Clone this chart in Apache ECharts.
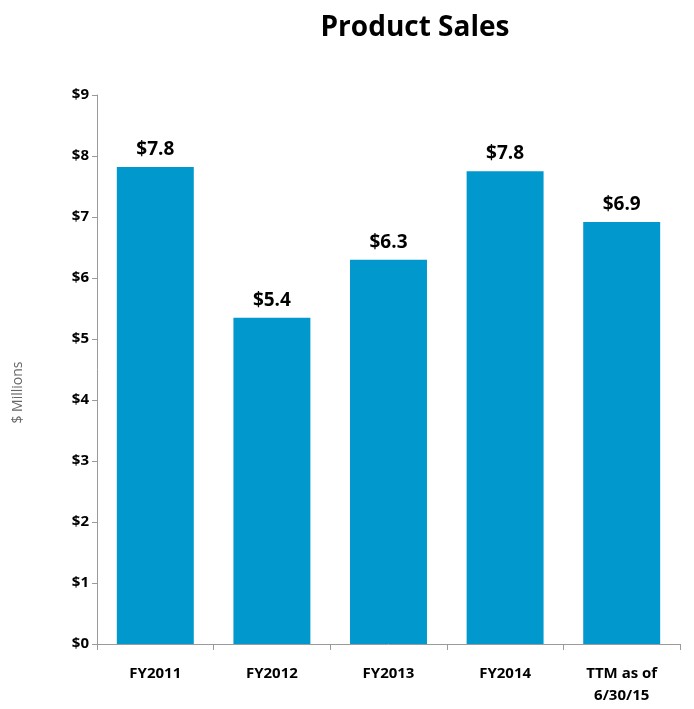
<!DOCTYPE html>
<html>
<head>
<meta charset="utf-8">
<script src="https://cdn.jsdelivr.net/npm/echarts@6/dist/echarts.min.js"></script>
<style>
  html, body { margin: 0; padding: 0; background: #fff; }
  #chart { width: 694px; height: 709px; }
</style>
</head>
<body>
<div id="chart"></div>
<script>
var categories = ['FY2011', 'FY2012', 'FY2013', 'FY2014', 'TTM as of\n6/30/15'];
var sales = [7.82, 5.35, 6.3, 7.75, 6.92];
var salesLabels = ['$7.8', '$5.4', '$6.3', '$7.8', '$6.9'];

var chart = echarts.init(document.getElementById('chart'));
var font = '"Open Sans", sans-serif';
chart.setOption({
    title: {
        text: 'Product Sales',
        left: 410,
        top: 9,
        textAlign: 'center',
        textStyle: { fontFamily: font, fontSize: 28, fontWeight: 'bold', color: '#000' }
    },
    grid: { left: 97, right: 14, top: 95, bottom: 65 },
    xAxis: {
        type: 'category',
        data: categories,
        axisLine: { lineStyle: { color: '#9a9a9a' } },
        axisTick: { show: true, length: 6, lineStyle: { color: '#9a9a9a' } },
        axisLabel: { fontFamily: font, fontSize: 15, fontWeight: 'bold', color: '#000', margin: 19, lineHeight: 22 }
    },
    yAxis: {
        type: 'value',
        min: 0,
        max: 9,
        interval: 1,
        name: '$ Millions',
        nameLocation: 'middle',
        nameGap: 72,
        nameTextStyle: { fontFamily: font, fontSize: 14, color: '#666', padding: [0, 46, 0, 0] },
        axisLine: { show: true, lineStyle: { color: '#9a9a9a' } },
        axisTick: { show: true, length: 5, lineStyle: { color: '#9a9a9a' } },
        splitLine: { show: false },
        axisLabel: {
            fontFamily: font, fontSize: 15, fontWeight: 'bold', color: '#000', margin: 8,
            formatter: function (v) { return '$' + v; }
        }
    },
    series: [{
        type: 'bar',
        data: sales,
        barWidth: '66%',
        itemStyle: { color: '#0098cd' },
        label: {
            show: true,
            position: 'top',
            distance: 8,
            fontFamily: font, fontSize: 19, fontWeight: 'bold', color: '#000',
            formatter: function (p) { return salesLabels[p.dataIndex]; }
        }
    }]
});
</script>
</body>
</html>
